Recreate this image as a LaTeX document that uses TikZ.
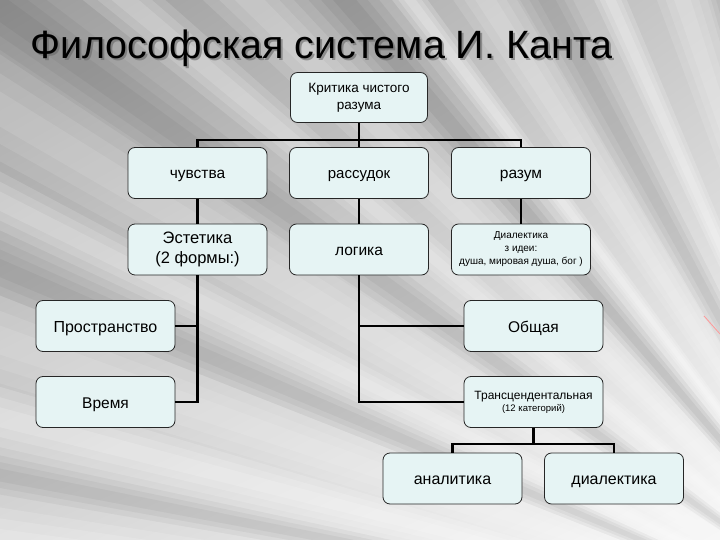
\documentclass[tikz,border=0pt]{standalone}
\usepackage{fontspec}
\setmainfont{Liberation Sans}
\usetikzlibrary{shadings}
\definecolor{boxfill}{HTML}{E6F4F4}
\newcommand\softray[4]{% angle, half width, colour, opacity
  \foreach \kk in {1,0.66,0.33}{%
    \fill[#3,opacity=#4] (F) -- +({#1-#2*\kk}:2000) -- +({#1+#2*\kk}:2000) -- cycle;}}
\begin{document}
\begin{tikzpicture}[x=1pt,y=-1pt,
  box/.style={draw=black!85,line width=0.8pt,fill=boxfill,rounded corners=7pt,
    minimum width=139pt,minimum height=51pt,align=center,inner sep=2pt,font=\fontsize{15.5}{18}\selectfont},
  one/.style={text height=14pt,text depth=2pt},
  link/.style={line width=2.7pt,black}]
\useasboundingbox (0,0) rectangle (720,540);
% background
\begin{scope}
\clip (0,0) rectangle (720,540);
\shade[upper left=gray!78!white,upper right=gray!42!white,lower left=gray!32!white,lower right=gray!6!white] (0,0) rectangle (720,540);
\coordinate (F) at (900,650);
\softray{187}{2}{white}{.14}
\softray{191}{1.2}{black}{.04}
\softray{194.5}{1.8}{white}{.16}
\softray{199}{2.5}{white}{.1}
\softray{203}{1.5}{black}{.04}
\softray{206.5}{1.5}{white}{.15}
\softray{211}{2.5}{white}{.1}
\softray{215.5}{1.8}{black}{.04}
\softray{220}{1.5}{white}{.15}
\softray{225}{2}{white}{.12}
\softray{229.5}{1.8}{black}{.05}
\softray{233}{1}{white}{.2}
\softray{237.5}{2}{white}{.12}
\softray{241.5}{1.8}{black}{.04}
\softray{246}{1.2}{white}{.18}
\softray{251.5}{2}{white}{.12}
\softray{255}{1.2}{black}{.04}
\softray{258}{1.2}{white}{.18}
\draw[red!40,line width=0.8pt] (704,316) -- (720,334);
\end{scope}
% title with shadow
\node[anchor=base west,inner sep=0,font=\fontsize{39.5}{44}\selectfont,text=black!60,opacity=.6] (tshadow) at (32,61) {Философская система И. Канта};
\node[anchor=base west,inner sep=0,font=\fontsize{39.5}{44}\selectfont] (title) at (30,59) {Философская система И. Канта};
% boxes
\node[box,font=\fontsize{13.5}{17}\selectfont,minimum width=137pt,minimum height=50pt] (krit) at (359,97.5) {Критика чистого\\разума};
\node[box,one] (chuv) at (197.5,173) {чувства};
\node[box,one,font=\fontsize{15}{18}\selectfont] (rass) at (359,173) {рассудок};
\node[box,one] (razum) at (521,173) {разум};
\node[box,font=\fontsize{16.5}{20}\selectfont] (est) at (197.5,249.5) {Эстетика\\(2 формы:)};
\node[box,one] (log) at (359,249.5) {логика};
\node[box,font=\fontsize{10}{13}\selectfont] (dial) at (521,249.5) {Диалектика\\з идеи:\\душа, мировая душа, бог )};
\node[box,one,font=\fontsize{16}{18}\selectfont] (prost) at (105.5,326) {Пространство};
\node[box,one] (vrem) at (105.5,402) {Время};
\node[box,one] (obsh) at (533.5,326) {Общая};
\node[box,font=\fontsize{12}{13}\selectfont] (trans) at (533.5,402) {Трансцендентальная\\[-1pt]{\fontsize{9.5}{11}\selectfont (12 категорий)}};
\node[box,one,font=\fontsize{16}{18}\selectfont] (anal) at (452.5,478.5) {аналитика};
\node[box,one,font=\fontsize{16}{18}\selectfont] (dialek) at (614,478.5) {диалектика};
% connectors
\coordinate (bus1) at (359,140);
\coordinate (bus2) at (533.5,444);
\draw[link] (krit.south) -- (rass.north);
\draw[link] (chuv.north) -- (chuv.north |- bus1) -- (razum.north |- bus1) -- (razum.north);
\draw[link] (chuv.south) -- (est.north);
\draw[link] (rass.south) -- (log.north);
\draw[link] (razum.south) -- (dial.north);
\draw[link] (est.south) -- (est.south |- vrem.east) -- (vrem.east);
\draw[link] (prost.east) -- (est.south |- prost.east);
\draw[link] (log.south) -- (log.south |- trans.west) -- (trans.west);
\draw[link] (log.south |- obsh.west) -- (obsh.west);
\draw[link] (trans.south) -- (bus2);
\draw[link] (anal.north) -- (anal.north |- bus2) -- (dialek.north |- bus2) -- (dialek.north);
\end{tikzpicture}
\end{document}
